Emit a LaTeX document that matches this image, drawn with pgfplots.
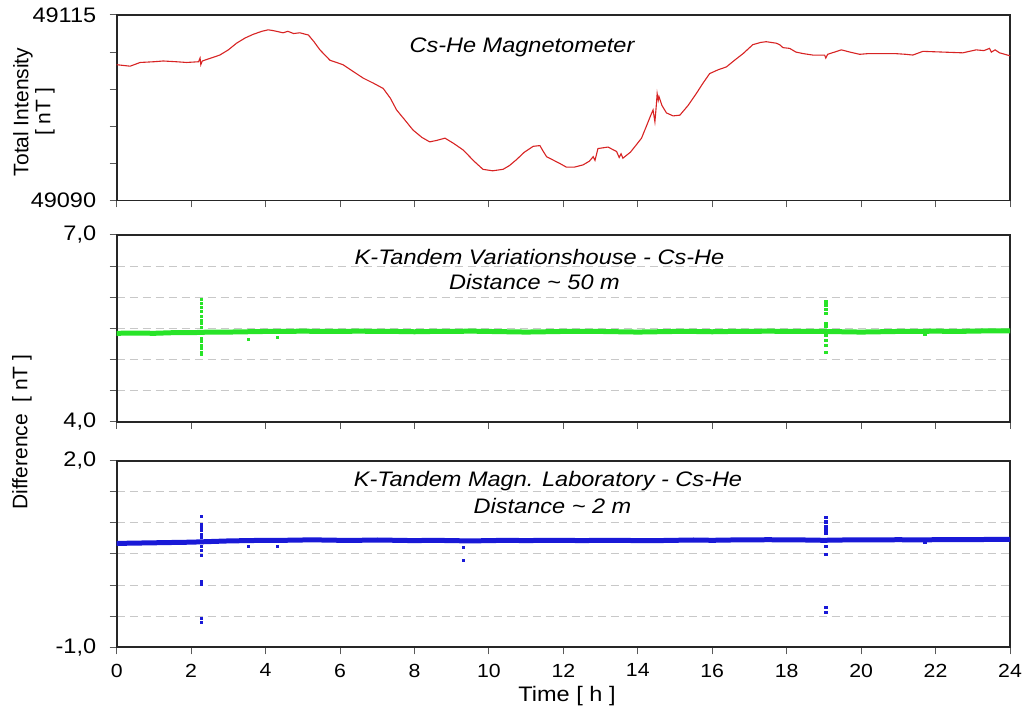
\documentclass[border=0pt]{standalone}
\usepackage{fontspec}
\setmainfont{Liberation Sans}
\newfontfamily\hfont[FakeStretch=1.12]{Liberation Sans}
\usepackage{pgfplots}
\pgfplotsset{compat=1.18}
\definecolor{cred}{RGB}{215,35,35}
\definecolor{cgreen}{RGB}{40,228,40}
\definecolor{cblue}{RGB}{25,25,215}
\definecolor{gridgray}{RGB}{200,200,200}
\pgfplotsset{
  panel/.style={
    scale only axis, width=893.3pt,
    xmin=0, xmax=24, xtick={0,2,...,24},
    axis line style={line width=1.7pt, draw=black!85},
    tick style={line width=1pt, draw=black!65},
    xtick pos=left, ytick pos=left, tick align=outside,
    major tick length=7pt,
    xticklabels={},
    scaled y ticks=false, scaled x ticks=false,
    yticklabel style={font=\hfont\fontsize{21}{21}\selectfont, anchor=east, xshift=-10pt},
    /pgf/number format/assume math mode=true,
  },
  dgrid/.style={
    ymajorgrids,
    grid style={line width=1pt, draw=gridgray, dash pattern=on 8pt off 5pt},
  },
}
\begin{document}
\begin{tikzpicture}
\path[use as bounding box] (0,0) rectangle (1023pt,708pt);
% ---------------- top panel
\begin{axis}[panel, at={(116.7pt,507.5pt)}, anchor=south west, height=185.5pt,
  ymin=49090, ymax=49115, ytick={49090,49095,49100,49105,49110,49115},
  yticklabels={{49090},{},{},{},{},{\raisebox{-6pt}{49115}}}]
\addplot[cred, line width=1.1pt] coordinates {
(0,49108.3) (0.36,49108.1) (0.63,49108.6) (1.0,49108.7) (1.25,49108.8) (1.6,49108.7)
(1.88,49108.6) (2.2,49108.7) (2.24,49109.2) (2.26,49108.3) (2.3,49108.8) (2.77,49109.6)
(3.0,49110.3) (3.22,49111.2) (3.45,49111.9) (3.67,49112.4) (3.9,49112.8) (4.07,49113.0)
(4.2,49112.9) (4.47,49112.6) (4.6,49112.8) (4.75,49112.5) (4.92,49112.6) (5.15,49112.3)
(5.3,49111.4) (5.46,49110.3) (5.73,49108.9) (6.08,49108.3) (6.35,49107.4) (6.62,49106.5)
(6.9,49105.8) (7.16,49105.1) (7.35,49103.8) (7.52,49102.2) (7.75,49100.8) (7.96,49099.5)
(8.2,49098.5) (8.41,49097.9) (8.6,49098.1) (8.82,49098.4) (9.05,49097.7) (9.31,49096.8)
(9.6,49095.3) (9.84,49094.2) (10.1,49094.0) (10.38,49094.2) (10.55,49094.7) (10.74,49095.5)
(10.95,49096.5) (11.19,49097.3) (11.37,49097.4) (11.45,49096.7) (11.55,49095.9) (11.9,49095.0)
(12.08,49094.5) (12.3,49094.5) (12.53,49094.8) (12.7,49095.3) (12.8,49095.9) (12.85,49095.4)
(12.93,49097.0) (13.2,49097.2) (13.43,49096.6) (13.5,49095.8) (13.55,49096.3) (13.6,49095.7)
(13.8,49096.5) (13.96,49097.5) (14.1,49098.4) (14.23,49100.0) (14.35,49101.5) (14.41,49102.2)
(14.46,49100.6) (14.5,49103.0) (14.52,49104.4) (14.55,49103.5) (14.57,49104.0) (14.65,49102.8)
(14.77,49101.8) (14.95,49101.4) (15.13,49101.5) (15.35,49102.8) (15.57,49104.4) (15.75,49105.8)
(15.93,49107.1) (16.15,49107.6) (16.38,49108.0) (16.6,49108.9) (16.83,49109.8) (17.09,49111.0)
(17.3,49111.3) (17.45,49111.4) (17.72,49111.2) (17.81,49111.0) (17.9,49110.6) (18.08,49110.5)
(18.25,49110.0) (18.44,49109.8) (18.7,49109.6) (19.02,49109.6) (19.05,49109.2) (19.1,49109.7)
(19.47,49110.3) (19.7,49110.0) (19.96,49109.7) (20.2,49109.8) (20.5,49109.8) (20.9,49109.8)
(21.2,49109.7) (21.39,49109.6) (21.66,49110.1) (22.2,49110.0) (22.73,49109.9) (23.09,49110.3)
(23.3,49110.2) (23.45,49110.5) (23.5,49110.0) (23.6,49110.3) (23.72,49109.9) (24,49109.5)
};
\end{axis}
% ---------------- middle panel
\begin{axis}[panel, dgrid, at={(116.7pt,286.3pt)}, anchor=south west, height=186.7pt,
  ymin=4, ymax=7, ytick={4,4.5,5,5.5,6,6.5,7},
  yticklabels={{4,0},{},{},{},{},{},{\raisebox{-8pt}{7,0}}}]
\addplot[cgreen, line width=5pt] coordinates {
(0,5.42)(0.5,5.425)(1,5.42)(1.5,5.43)(2,5.43)(2.5,5.44)(3,5.44)(3.5,5.445)(4,5.45)
(4.5,5.45)(5,5.455)(5.5,5.45)(6,5.45)(6.5,5.455)(7,5.45)(7.5,5.45)(8,5.445)(8.5,5.45)
(9,5.45)(9.5,5.455)(10,5.45)(10.5,5.445)(11,5.44)(11.5,5.445)(12,5.45)(12.5,5.45)
(13,5.45)(13.5,5.445)(14,5.44)(14.5,5.445)(15,5.45)(15.5,5.45)(16,5.445)(16.5,5.45)
(17,5.45)(17.5,5.455)(18,5.45)(18.5,5.45)(19,5.45)(19.5,5.445)(20,5.44)(20.5,5.445)
(21,5.45)(21.5,5.45)(22,5.455)(22.5,5.45)(23,5.455)(23.5,5.46)(24,5.46)
};
\addplot[only marks, mark=square*, mark size=1.1pt, color=cgreen] coordinates {
(2.27,5.97)(2.27,5.90)(2.27,5.84)(2.27,5.77)(2.27,5.69)(2.27,5.63)(2.27,5.58)(2.27,5.52)
(2.27,5.34)(2.27,5.29)(2.27,5.23)(2.27,5.18)(2.27,5.12)(2.27,5.08)
(3.53,5.32)(4.31,5.36)
(19.05,5.94)(19.05,5.88)(19.05,5.81)(19.05,5.74)(19.05,5.58)(19.05,5.53)(19.05,5.47)
(19.05,5.39)(19.05,5.31)(19.05,5.23)(19.05,5.12)(21.71,5.40)
};
\end{axis}
% ---------------- bottom panel
\begin{axis}[panel, dgrid, at={(116.7pt,60.7pt)}, anchor=south west, height=186.6pt,
  ymin=-1, ymax=2, ytick={-1,-0.5,0,0.5,1,1.5,2},
  yticklabels={{-1,0},{},{},{},{},{},{\raisebox{-8pt}{2,0}}},
  xticklabels={0,2,4,6,8,10,12,14,16,18,20,22,24},
  xticklabel style={font=\hfont\fontsize{19}{19}\selectfont, yshift=-6pt}]
\addplot[cblue, line width=5pt] coordinates {
(0,0.67)(0.5,0.675)(1,0.68)(1.5,0.685)(2,0.69)(2.5,0.70)(3,0.71)(3.5,0.715)(4,0.72)
(4.5,0.72)(5,0.725)(5.5,0.725)(6,0.72)(6.5,0.72)(7,0.725)(7.5,0.72)(8,0.715)(8.5,0.72)
(9,0.715)(9.5,0.71)(10,0.715)(10.5,0.72)(11,0.715)(11.5,0.72)(12,0.72)(12.5,0.715)
(13,0.72)(13.5,0.72)(14,0.715)(14.5,0.715)(15,0.72)(15.5,0.725)(16,0.72)(16.5,0.725)
(17,0.725)(17.5,0.73)(18,0.725)(18.5,0.725)(19,0.72)(19.5,0.725)(20,0.725)(20.5,0.725)
(21,0.73)(21.5,0.725)(22,0.73)(22.5,0.73)(23,0.73)(23.5,0.735)(24,0.735)
};
\addplot[only marks, mark=square*, mark size=1.1pt, color=cblue] coordinates {
(2.27,1.11)(2.27,0.97)(2.27,0.93)(2.27,0.89)(2.27,0.82)(2.27,0.77)(2.27,0.63)(2.27,0.56)
(2.27,0.48)(2.27,0.055)(2.27,0.02)(2.27,-0.53)(2.27,-0.60)
(3.53,0.62)(4.32,0.62)(9.31,0.61)(9.31,0.40)
(19.05,1.09)(19.05,1.02)(19.05,0.95)(19.05,0.89)(19.05,0.83)(19.05,0.63)(19.05,0.50)
(19.05,-0.36)(19.05,-0.44)(21.71,0.69)
};
\end{axis}
% ---------------- texts
\node[font=\hfont\itshape\fontsize{21}{21}\selectfont, anchor=base] at (522pt,655pt) {Cs-He Magnetometer};
\node[font=\hfont\itshape\fontsize{21}{21}\selectfont, anchor=base] at (539.5pt,443pt) {K-Tandem Variationshouse - Cs-He};
\node[font=\hfont\itshape\fontsize{21}{21}\selectfont, anchor=base] at (534.5pt,418pt) {Distance \textasciitilde{} 50 m};
\node[font=\hfont\itshape\fontsize{21}{21}\selectfont, anchor=base] at (548pt,221pt) {K-Tandem Magn. Laboratory - Cs-He};
\node[font=\hfont\itshape\fontsize{21}{21}\selectfont, anchor=base] at (552.5pt,194pt) {Distance \textasciitilde{} 2 m};
\node[font=\fontsize{21}{22}\selectfont, rotate=90, align=center] at (34pt,596pt) {Total Intensity\\{[ nT ]}};
\node[font=\fontsize{21}{22}\selectfont, rotate=90] at (22pt,276pt) {Difference \ [ nT ]};
\node[font=\hfont\fontsize{21}{21}\selectfont] at (567pt,12pt) {Time [ h ]};
\end{tikzpicture}
\end{document}
